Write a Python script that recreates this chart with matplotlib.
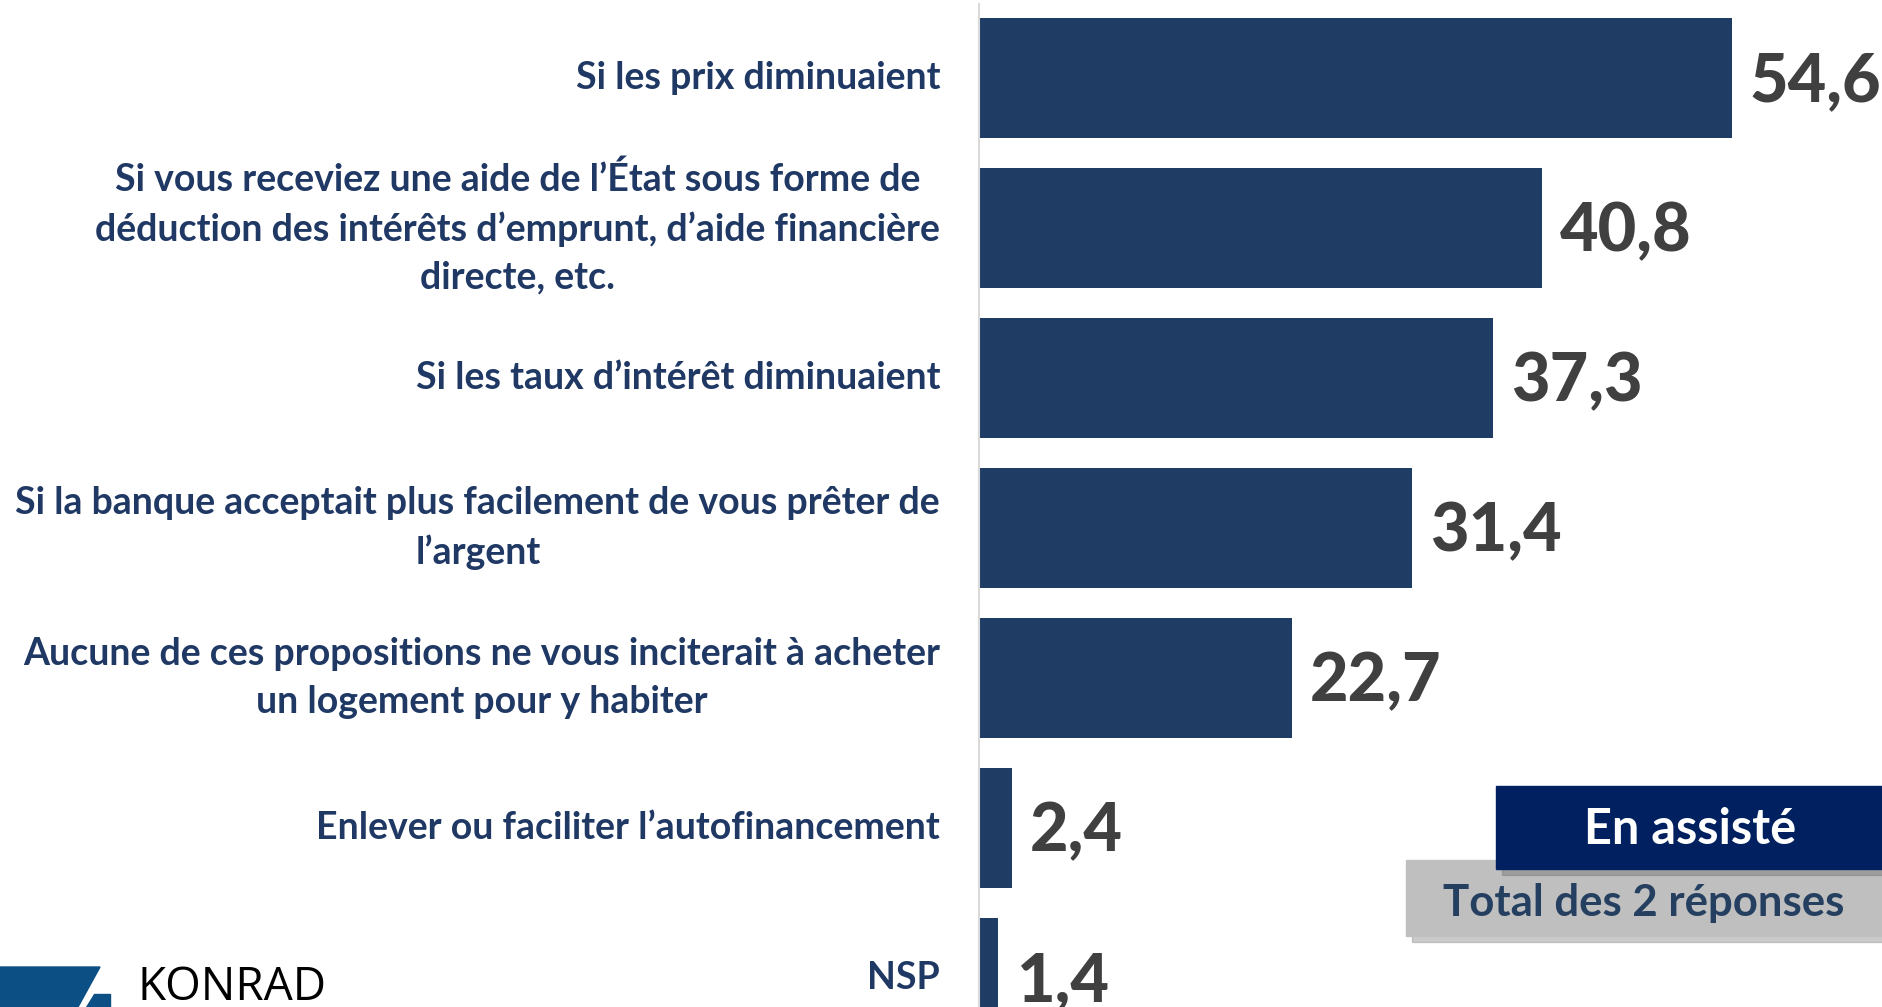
import matplotlib
matplotlib.use("Agg")
import matplotlib.pyplot as plt
from matplotlib.patches import Rectangle, Polygon

# survey answers, top to bottom
labels = [
    "Si les prix diminuaient",
    "Si vous receviez une aide de l\u2019\u00c9tat sous forme de\nd\u00e9duction des int\u00e9r\u00eats d\u2019emprunt, d\u2019aide financi\u00e8re\ndirecte, etc.",
    "Si les taux d\u2019int\u00e9r\u00eat diminuaient",
    "Si la banque acceptait plus facilement de vous pr\u00eater de\nl\u2019argent",
    "Aucune de ces propositions ne vous inciterait \u00e0 acheter\nun logement pour y habiter",
    "Enlever ou faciliter l\u2019autofinancement",
    "NSP",
]
values = [54.6, 40.8, 37.3, 31.4, 22.7, 2.4, 1.4]

W, H = 1882, 1007
plt.rcParams['font.family'] = ['Lato', 'DejaVu Sans']

fig = plt.figure(figsize=(W / 100, H / 100), dpi=100)

# axes: left spine at x=979px, top at y=4px, bars 150px apart
ax = fig.add_axes([979 / W, 0, (W - 979) / W, (H - 4) / H])
pos = list(range(len(values)))
ax.barh(pos, values, height=0.8, color="#1F3C65")
ax.set_xlim(0, (W - 979) / 13.79)
ax.set_ylim((H - 78) / 150, -(78 - 4) / 150)

for s in ["top", "right", "bottom"]:
    ax.spines[s].set_visible(False)
ax.spines["left"].set_color("#d9d9d9")
ax.spines["left"].set_linewidth(1.5)
ax.set_xticks([])

ax.set_yticks(pos, labels)
ax.tick_params(axis="y", length=0, pad=28)
for lab in ax.get_yticklabels():
    lab.set_fontsize(27)
    lab.set_fontweight("bold")
    lab.set_color("#1F3864")
    lab.set_multialignment("center")
    lab.set_linespacing(1.5)
    lab.set_verticalalignment("center")

for i, v in enumerate(values):
    ax.text(v + 1.3, i + 0.03, "{:.1f}".format(v).replace(".", ","), va="center",
            ha="left", fontsize=48, fontweight="black", color="#404040")

# boxes on the bottom right
def px(x, y, w, h):
    return (x / W, 1 - (y + h) / H), w / W, h / H

xy, w, h = px(1412, 866, 476, 76)
fig.add_artist(Rectangle(xy, w, h, transform=fig.transFigure, color="#999999", alpha=0.5))
xy, w, h = px(1406, 860, 476, 76)
fig.add_artist(Rectangle(xy, w, h, transform=fig.transFigure, color="#BFBFBF"))
xy, w, h = px(1502, 792, 386, 83)
fig.add_artist(Rectangle(xy, w, h, transform=fig.transFigure, color="#7f7f7f", alpha=0.5))
xy, w, h = px(1496, 786, 386, 83)
fig.add_artist(Rectangle(xy, w, h, transform=fig.transFigure, color="#002060"))
fig.text(1690 / W, 1 - 830 / H, "En assist\u00e9", ha="center", va="center",
         fontsize=35, fontweight="bold", color="white")
fig.text(1644 / W, 1 - 903 / H, "Total des 2 r\u00e9ponses", ha="center", va="center",
         fontsize=31.5, fontweight="bold", color="#243F60")

# logo bottom left
def pts(p):
    return [(x / W, 1 - y / H) for x, y in p]

fig.add_artist(Polygon(pts([(0, 967), (100, 967), (78, 1007), (0, 1007)]),
                       transform=fig.transFigure, color="#0B4F85"))
fig.add_artist(Polygon(pts([(94, 994), (110, 994), (110, 1007), (86, 1007)]),
                       transform=fig.transFigure, color="#0B4F85"))
fig.text(138 / W, 1 - 1000 / H, "KONRAD", ha="left", va="baseline",
         fontsize=33, color="black", family=["Open Sans", "DejaVu Sans"])

fig.savefig("out.png", dpi=100)
